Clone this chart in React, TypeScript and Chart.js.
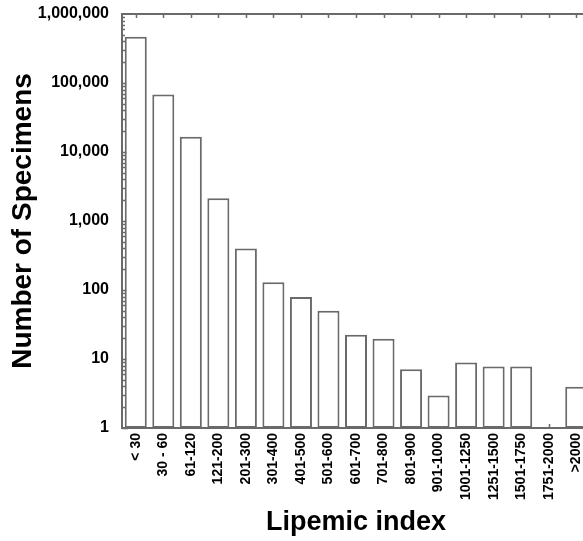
import React, { useEffect, useRef } from "react";
import { Chart, registerables } from "chart.js";

Chart.register(...registerables);

const categories = [
  "< 30", "30 - 60", "61-120", "121-200", "201-300", "301-400", "401-500",
  "501-600", "601-700", "701-800", "801-900", "901-1000", "1001-1250",
  "1251-1500", "1501-1750", "1751-2000", ">2000",
];
const specimens: (number | null)[] = [
  470000, 68000, 16700, 2130, 400, 129, 79, 50, 22.5, 19.7, 7.1, 2.95,
  8.9, 7.8, 7.8, null, 3.96,
];
const yMin = 1;
const yMax = 1000000;

const FONT = "'Liberation Sans', Arial, sans-serif";
const GRAY = "#6a6a6a";

const framePlugin = {
  id: "frame",
  beforeDatasetsDraw(chart: any) {
    const { ctx, chartArea, scales } = chart;
    const { left, right, top, bottom } = chartArea;
    const x = scales.x;
    const y = scales.y;
    ctx.save();
    ctx.strokeStyle = GRAY;
    ctx.lineWidth = 2;
    ctx.strokeRect(left, top, right - left, bottom - top);
    ctx.lineWidth = 1.5;
    ctx.beginPath();
    for (let i = 0; i < categories.length; i++) {
      const px = Math.round(x.getPixelForTick(i)) + 0.5;
      ctx.moveTo(px, top);
      ctx.lineTo(px, top + 4);
      ctx.moveTo(px, bottom);
      ctx.lineTo(px, bottom - 4);
    }
    for (let e = 0; e < 6; e++) {
      for (let m = 1; m <= 9; m++) {
        const v = m * Math.pow(10, e);
        const py = Math.round(y.getPixelForValue(v)) + 0.5;
        const len = m === 1 ? 6 : 3;
        ctx.moveTo(left, py);
        ctx.lineTo(left + len, py);
      }
    }
    ctx.stroke();
    ctx.restore();
  },
};

export default function App() {
  const ref = useRef<HTMLCanvasElement>(null);
  useEffect(() => {
    if (!ref.current) return;
    const chart = new Chart(ref.current, {
      type: "bar",
      data: {
        labels: categories,
        datasets: [
          {
            data: specimens as any,
            backgroundColor: "#ffffff",
            borderColor: GRAY,
            borderWidth: 2,
            borderSkipped: false,
            categoryPercentage: 1,
            barPercentage: 0.8,
          },
        ],
      },
      options: {
        responsive: false,
        animation: false,
        layout: { padding: { top: 14, right: 30, left: 0, bottom: 0 } },
        plugins: {
          legend: { display: false },
          tooltip: { enabled: false },
        },
        scales: {
          x: {
            grid: { display: false, drawTicks: false },
            border: { display: false },
            ticks: {
              color: "#000",
              font: { family: FONT, size: 14, weight: "bold" },
              minRotation: 90,
              maxRotation: 90,
              autoSkip: false,
              padding: 5,
            },
            title: {
              display: true,
              text: "Lipemic index",
              color: "#000",
              font: { family: FONT, size: 27, weight: "bold" },
              padding: { top: 0, bottom: 2 },
            },
            afterFit: (s: any) => {
              s.height = 113;
              s.paddingLeft = 0;
              s.paddingRight = 0;
            },
          },
          y: {
            type: "logarithmic",
            min: yMin,
            max: yMax,
            grid: { display: false, drawTicks: false },
            border: { display: false },
            ticks: {
              color: "#000",
              font: { family: FONT, size: 16, weight: "bold" },
              padding: 13,
              autoSkip: false,
              callback: (v: any) => {
                const n = Number(v);
                const l = Math.log10(n);
                if (Math.abs(l - Math.round(l)) < 1e-9) {
                  return n.toLocaleString("en-US");
                }
                return "";
              },
            },
            title: {
              display: true,
              text: "Number of Specimens",
              color: "#000",
              font: { family: FONT, size: 28, weight: "bold" },
              padding: { top: 6, bottom: 0 },
            },
            afterFit: (s: any) => {
              s.width = 122;
              s.paddingTop = 0;
              s.paddingBottom = 0;
            },
          },
        },
      },
      plugins: [framePlugin],
    });
    return () => chart.destroy();
  }, []);
  return (
    <div
      style={{
        position: "fixed",
        left: 0,
        top: 0,
        width: 583,
        height: 541,
        overflow: "hidden",
        background: "#fff",
      }}
    >
      <canvas ref={ref} width={620} height={541} style={{ display: "block" }} />
    </div>
  );
}
